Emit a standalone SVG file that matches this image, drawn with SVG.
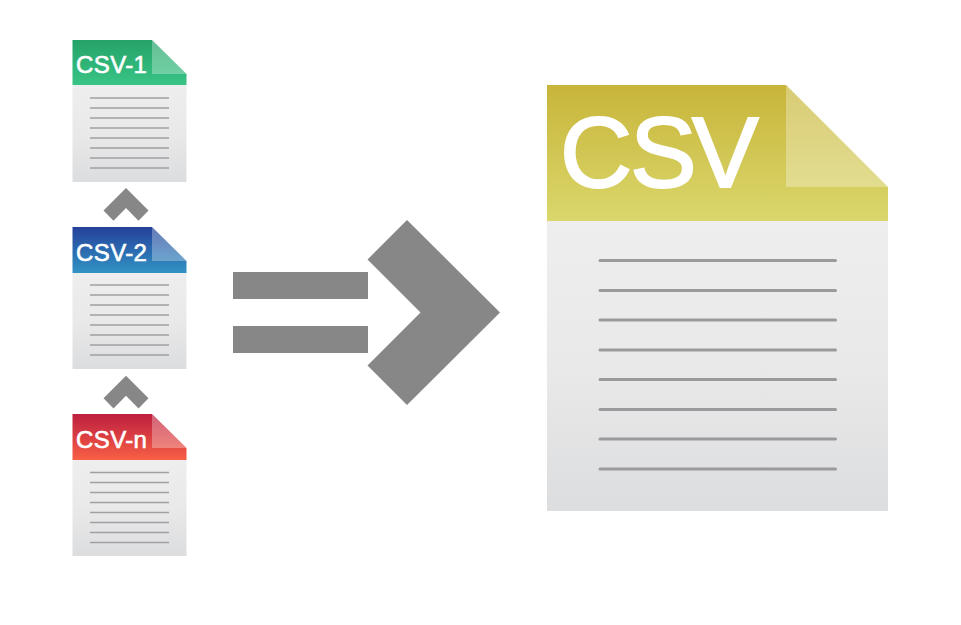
<svg xmlns="http://www.w3.org/2000/svg" xmlns:xlink="http://www.w3.org/1999/xlink" width="961" height="625" viewBox="0 0 961 625">
<style>
text{font-family:"Liberation Sans",Arial,sans-serif;fill:#fff;stroke:#fff}
.s{font-size:24px;stroke-width:.6;letter-spacing:.4px}
.l{stroke:#a0a0a2;stroke-width:1.4;fill:none}
.L{stroke:#9a9a9c;stroke-width:3;fill:none;stroke-linecap:round}
.a{fill:#878787}
</style>
<defs>
<linearGradient id="b" x1="0" y1="0" x2="0" y2="1"><stop offset="0" stop-color="#eeeeef"/><stop offset=".5" stop-color="#e9e9ea"/><stop offset="1" stop-color="#dcddde"/></linearGradient>
<linearGradient id="g" x1="0" y1="0" x2="0" y2="1"><stop offset="0" stop-color="#25a268"/><stop offset="1" stop-color="#38c485"/></linearGradient>
<linearGradient id="u" x1="0" y1="0" x2="0" y2="1"><stop offset="0" stop-color="#25409a"/><stop offset="1" stop-color="#3193c4"/></linearGradient>
<linearGradient id="r" x1="0" y1="0" x2="0" y2="1"><stop offset="0" stop-color="#bd1f3f"/><stop offset="1" stop-color="#f85f45"/></linearGradient>
<linearGradient id="y" x1="0" y1="0" x2="0" y2="1"><stop offset="0" stop-color="#c8b53a"/><stop offset="1" stop-color="#dad76c"/></linearGradient>
<path id="lines" class="l" d="M90 98H169M90 108H169M90 118H169M90 128H169M90 138H169M90 148H169M90 158H169M90 168H169"/>
<path id="chev" class="a" d="M126 188L148.500 210.500L138.500 220.700L126 208L113.500 220.700L103.500 210.500Z"/>
</defs>
<g id="csv-1">
<rect x="72.500" y="85" width="114" height="97" fill="url(#b)"/>
<path d="M72.500 40H152L186.500 74V85H72.500Z" fill="url(#g)"/>
<path d="M152 40L186.500 74H152Z" fill="#fff" fill-opacity=".3"/>
<use xlink:href="#lines"/>
<text class="s" x="76" y="73">CSV-1</text>
</g>
<g id="csv-2">
<rect x="72.500" y="273" width="114" height="96" fill="url(#b)"/>
<path d="M72.500 227H152L186.500 261V273H72.500Z" fill="url(#u)"/>
<path d="M152 227L186.500 261H152Z" fill="#fff" fill-opacity=".3"/>
<use xlink:href="#lines" y="187"/>
<text class="s" x="76" y="260.500">CSV-2</text>
</g>
<g id="csv-n">
<rect x="72.500" y="460" width="114" height="96" fill="url(#b)"/>
<path d="M72.500 414H152L186.500 448V460H72.500Z" fill="url(#r)"/>
<path d="M152 414L186.500 448H152Z" fill="#fff" fill-opacity=".3"/>
<use xlink:href="#lines" y="374.500"/>
<text class="s" x="76" y="447.500">CSV-n</text>
</g>
<g id="csv">
<rect x="547" y="221" width="341" height="290" fill="url(#b)"/>
<path d="M547 85H786L888 187V221H547Z" fill="url(#y)"/>
<path d="M786 85L888 187H786Z" fill="#fff" fill-opacity=".3"/>
<path class="L" d="M600 260.500H835.500M600 290.500H835.500M600 320H835.500M600 350H835.500M600 379.500H835.500M600 409.500H835.500M600 439H835.500M600 469H835.500"/>
<text x="560 630 692" y="187" font-size="100" stroke-width="2">CSV</text>
</g>
<g id="connectors">
<use xlink:href="#chev"/>
<use xlink:href="#chev" y="187.700"/>
<rect class="a" x="233" y="272" width="135" height="27"/>
<rect class="a" x="233" y="326" width="135" height="27"/>
<path class="a" d="M407 220L500 312.500L407 405L367.500 365.500L420.500 312.500L367.500 259.500Z"/>
</g>
</svg>
